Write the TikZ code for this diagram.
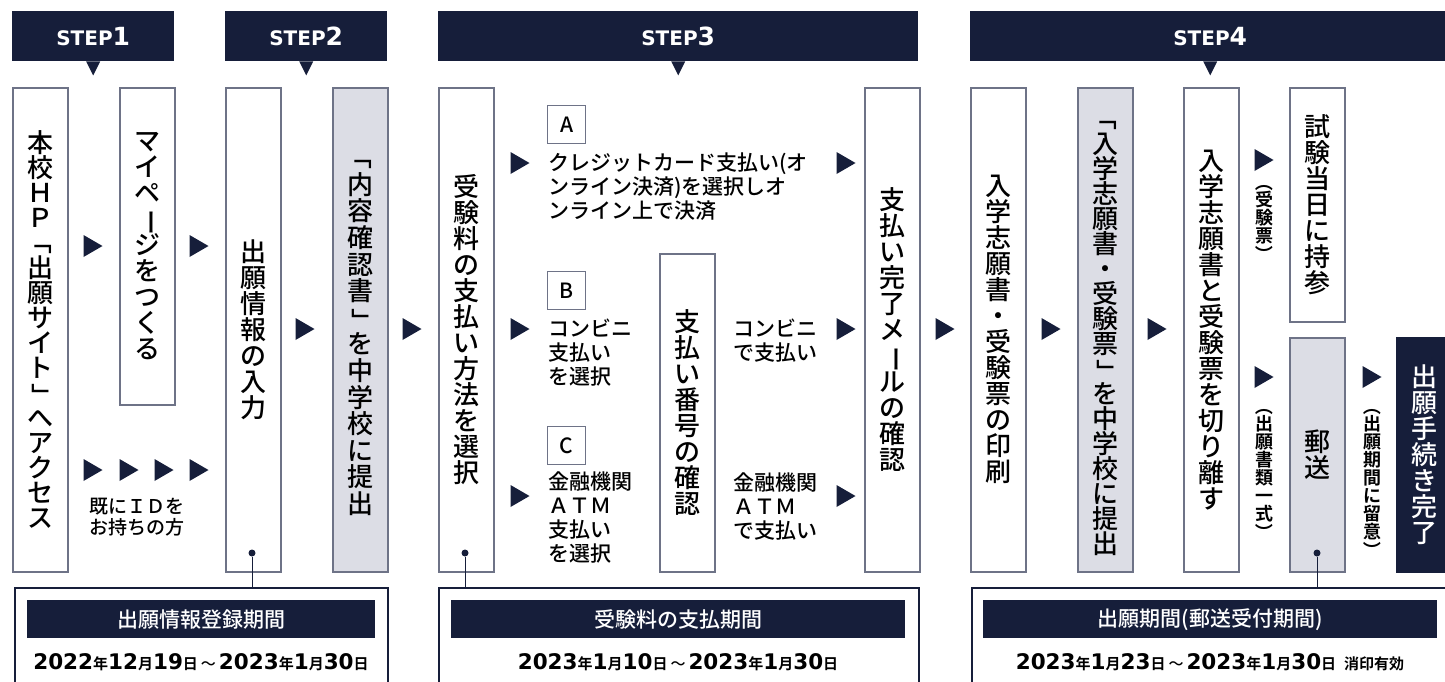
\documentclass[tikz,border=0pt]{standalone}
\usepackage{fontspec}
\setmainfont{Noto Sans CJK JP}[UprightFont = * Medium, BoldFont = * Bold]
\newfontfamily\stepfont{DejaVu Sans}
\usetikzlibrary{positioning}
\definecolor{navy}{HTML}{161E3A}
\definecolor{boxline}{HTML}{6E7387}
\definecolor{boxgray}{HTML}{DCDDE5}

\def\vtextend{\vtextend}
\def\vtextloop#1{\ifx#1\vtextend\else\hbox to 1em{\hss#1\hss}\expandafter\vtextloop\fi}
\newcommand\vtext[1]{\vbox{\lineskiplimit=-100pt\vtextloop#1\vtextend}}
\newcommand\vrot[1]{\rotatebox[origin=c]{-90}{#1}}
\newcommand\vbar{\vrot{ー}}
\newcommand\vopen{\vrot{「}}
\newcommand\vclose{\vrot{」}}
\newcommand\popen{\vrot{（}}
\newcommand\pclose{\vrot{）}}
\newcommand\steplabel[1]{{\stepfont\bfseries\fontsize{20}{20}\selectfont STEP\fontsize{25}{25}\selectfont #1}}
\newcommand\kj[1]{{\fontsize{15}{15}\selectfont\bfseries #1}}
\newcommand\dg[1]{{\stepfont\bfseries\fontsize{21.5}{21.5}\selectfont #1}}
\newcommand\til{\hspace{3pt}{\fontsize{15}{15}\selectfont ～}\hspace{3pt}}

\begin{document}
\begin{tikzpicture}[x = 1pt, y = -1pt, font = \fontsize{21}{24}\selectfont]
\tikzset{
  stepHead/.style = {fill = navy, text = white, minimum height = 50, minimum width = 162, anchor = north west, inner sep = 0},
  vbox/.style = {draw = boxline, line width = 1.5pt, fill = white, minimum width = 55, minimum height = 484, anchor = north west, inner sep = 0, font = \fontsize{26}{26}\selectfont},
  gbox/.style = {vbox, fill = boxgray},
  tag/.style = {draw = boxline, line width = 1.2pt, minimum size = 38, anchor = north west, inner sep = 0},
  note/.style = {anchor = west, align = left, inner sep = 0},
  small/.style = {inner sep = 0, font = \fontsize{18}{18}\selectfont\bfseries},
  period/.style = {draw = navy, line width = 1.5pt, minimum height = 130, anchor = north west},
  bar/.style = {fill = navy, text = white, minimum height = 38, anchor = north west, inner sep = 0},
  dot/.style = {circle, fill = navy, minimum size = 7, inner sep = 0},
  link/.style = {draw = navy, line width = 1pt},
  tri/.pic = {\fill[navy] (-9.5,-11) -- (9.5,0) -- (-9.5,11) -- cycle;},
  pointer/.pic = {\fill[navy] (-7,0) -- (7,0) -- (0,14) -- cycle;},
}
\useasboundingbox (0,0) rectangle (1445,681);

\node [stepHead] (step1) at (12,11) {\steplabel{1}};
\node [stepHead] (step2) at (225,11) {\steplabel{2}};
\node [stepHead, minimum width = 480] (step3) at (438,11) {\steplabel{3}};
\node [stepHead, minimum width = 480] (step4) at (970,11) {\steplabel{4}};
\pic at (step1.south) {pointer};
\pic at (step2.south) {pointer};
\pic at (step3.south) {pointer};
\pic at (step4.south) {pointer};

\node [vbox, font = \fontsize{26}{25}\selectfont] (siteAccess) at (12,87) {\vtext{本校ＨＰ\vopen 出願サイト\vclose へアクセス}};
\node [vbox, minimum height = 317] (myPage) at (119,87) {\vtext{マイペ\vbar ジをつくる}};
\node [vbox] (entryInput) at (225,87) {\vtext{出願情報の入力}};
\node [gbox, font = \fontsize{26}{26.6}\selectfont] (contentSubmit) at (332,87) {\vtext{\vopen 内容確認書\vclose を中学校に提出}};
\node [vbox] (payMethod) at (438,87) {\vtext{受験料の支払い方法を選択}};
\node [vbox, minimum height = 318] (payNumber) at (659,253) {\vtext{支払い番号の確認}};
\node [vbox] (payMail) at (864,87) {\vtext{支払い完了メ\vbar ルの確認}};
\node [vbox] (printForm) at (970,87) {\vtext{入学志願書・受験票の印刷}};
\node [gbox, font = \fontsize{26}{25}\selectfont] (formSubmit) at (1077,87) {\vtext{\vopen 入学志願書・受験票\vclose を中学校に提出}};
\node [vbox] (cutTicket) at (1183,87) {\vtext{入学志願書と受験票を切り離す}};
\node [vbox, minimum height = 234] (examDay) at (1289,87) {\vtext{試験当日に持参}};
\node [gbox, minimum height = 234] (mailing) at (1289,337) {\vtext{郵送}};
\node [vbox, minimum height = 234, fill = navy, draw = navy, text = white] (finished) at (1396,337) {\vtext{出願手続き完了}};

\pic at (93,246) {tri};
\pic at (199,246) {tri};
\pic at (93,470) {tri};
\pic at (129,470) {tri};
\pic at (164,470) {tri};
\pic at (199,470) {tri};
\node [note, font = \fontsize{19}{21}\selectfont] (haveId) at (89,517) {既にＩＤを\\お持ちの方};
\pic at (305,329) {tri};
\pic at (412,329) {tri};

\node [tag] (tagA) at (547,105) {A};
\node [tag] (tagB) at (547,271) {B};
\node [tag] (tagC) at (547,426) {C};
\pic at (520,163) {tri};
\pic at (520,329) {tri};
\pic at (520,496) {tri};
\node [note] (cardText) at (548,187) {クレジットカード支払い(オ\\ンライン決済)を選択しオ\\ンライン上で決済};
\node [note] (storeText) at (548,353) {コンビニ\\支払い\\を選択};
\node [note] (bankText) at (548,518) {金融機関\\ＡＴＭ\\支払い\\を選択};
\node [note] (storePay) at (733,341) {コンビニ\\で支払い};
\node [note] (bankPay) at (733,507) {金融機関\\ＡＴＭ\\で支払い};
\pic at (846,163) {tri};
\pic at (846,329) {tri};
\pic at (846,496) {tri};
\pic at (945,329) {tri};

\pic at (1051,329) {tri};
\pic at (1157,329) {tri};
\pic at (1264,160) {tri};
\pic at (1264,377) {tri};
\pic at (1372,377) {tri};
\node [small] (ticketNote) at (1264,218) {\vtext{\popen 受験票\pclose}};
\node [small] (docsNote) at (1264,469) {\vtext{\popen 出願書類一式\pclose}};
\node [small] (termNote) at (1372,478) {\vtext{\popen 出願期間に留意\pclose}};

\node [period, minimum width = 373] (regTerm) at (14,587) {};
\node [period, minimum width = 480] (payTerm) at (438,587) {};
\node [period, minimum width = 480] (appTerm) at (971,587) {};
\node [bar, minimum width = 348] (regBar) at (27,600) {出願情報登録期間};
\node [bar, minimum width = 454] (payBar) at (451,600) {受験料の支払期間};
\node [bar, minimum width = 454] (appBar) at (983,600) {出願期間(郵送受付期間)};
\node (regDate) at (201,662) {\dg{2022}\kj{年}\dg{12}\kj{月}\dg{19}\kj{日}\til\dg{2023}\kj{年}\dg{1}\kj{月}\dg{30}\kj{日}};
\node (payDate) at (678,662) {\dg{2023}\kj{年}\dg{1}\kj{月}\dg{10}\kj{日}\til\dg{2023}\kj{年}\dg{1}\kj{月}\dg{30}\kj{日}};
\node (appDate) at (1210,662) {\dg{2023}\kj{年}\dg{1}\kj{月}\dg{23}\kj{日}\til\dg{2023}\kj{年}\dg{1}\kj{月}\dg{30}\kj{日}\hspace{8pt}\kj{消印有効}};

\node [dot] (entryDot) at (252,553) {};
\node [dot] (payDot) at (465,553) {};
\node [dot] (mailDot) at (1317,553) {};
\draw [link] (entryDot) -- (entryDot |- regTerm.north);
\draw [link] (payDot) -- (payDot |- payTerm.north);
\draw [link] (mailDot) -- (mailDot |- appTerm.north);
\end{tikzpicture}
\end{document}
